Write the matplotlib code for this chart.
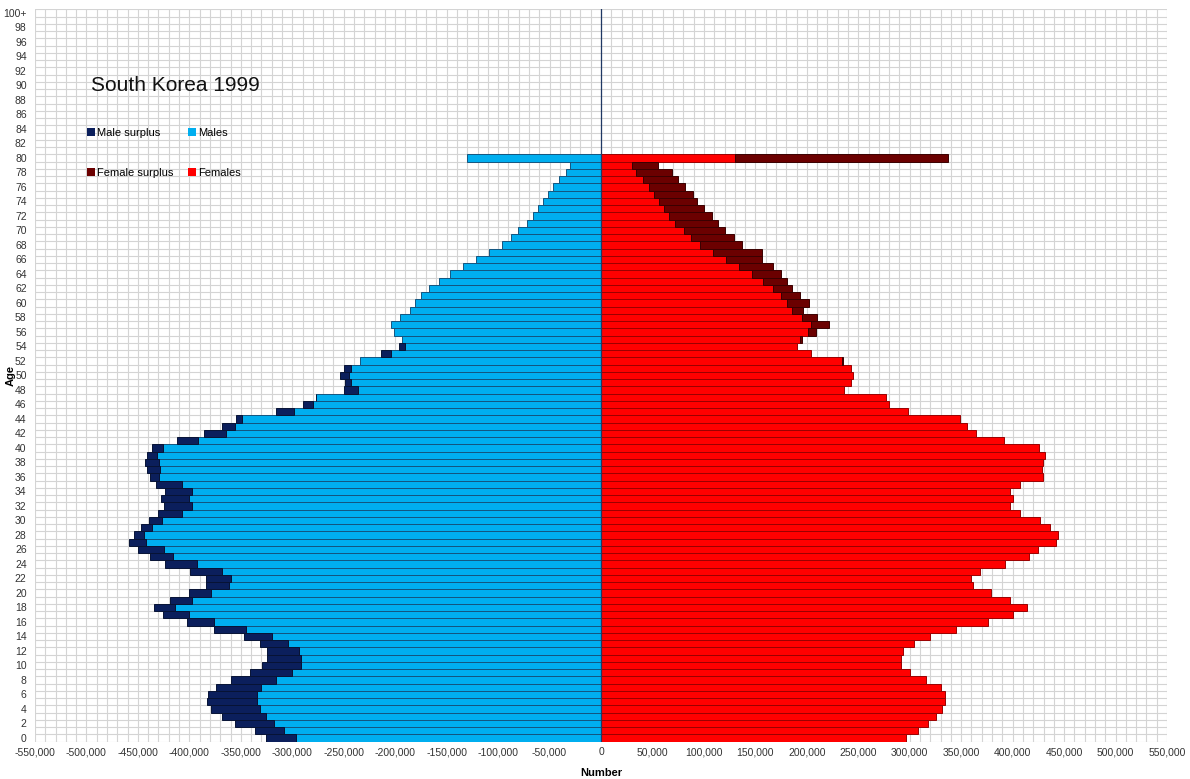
import matplotlib
matplotlib.use("Agg")
import matplotlib.pyplot as plt
from matplotlib.patches import Patch
import numpy as np

plt.rcParams['font.family'] = ['Liberation Sans', 'DejaVu Sans']

# Ages 0..79 plus the open group 80+
ages = np.arange(0, 81)

males = [325600, 336000, 355400, 368300, 379000, 382900, 382300, 373800, 359300, 340800,
         329500, 324600, 324600, 331800, 347300, 376400, 402300, 425600, 434700, 419100,
         400700, 383500, 383500, 399100, 423400, 437900, 450200, 459000, 454100, 447000,
         439600, 430400, 425000, 427200, 423400, 432100, 438600, 441100, 442800, 441100,
         436300, 412000, 385500, 368000, 354700, 315600, 289700, 277100, 250200, 248600,
         253400, 249500, 234600, 213600, 196100, 193600, 201000, 203900, 195200, 185500,
         180600, 175100, 166700, 157300, 146600, 134300, 121400, 108500, 96400, 87400,
         80300, 72200, 65700, 60900, 56000, 51800, 46300, 40800, 34300, 30100,
         130400]

females = [296800, 308100, 317800, 325900, 331800, 334000, 334700, 330800, 315600, 300700,
           291300, 291300, 293600, 303900, 319500, 345400, 376100, 400400, 414300, 397800,
           379300, 361500, 359300, 368700, 392300, 415900, 424700, 441800, 444400, 436600,
           426300, 406800, 397800, 400400, 397800, 406800, 429500, 428500, 429500, 431100,
           425300, 391600, 364100, 356000, 349000, 298000, 279600, 277000, 236000, 243300,
           245000, 243000, 234700, 204000, 190000, 195000, 209000, 222000, 210000, 196000,
           202000, 193200, 185100, 180300, 174800, 166700, 156000, 156000, 136600, 129500,
           120400, 113900, 107500, 100000, 92900, 89600, 81600, 75100, 68600, 55000,
           337000]

y_labels = [str(a) for a in range(0, 100, 2)] + ['100+']

c_males = '#00AEEF'
c_male_surplus = '#0B1F5C'
c_females = '#FF0000'
c_female_surplus = '#6B0000'

m = np.array(males)
f = np.array(females)
base = np.minimum(m, f)
m_sur = m - base
f_sur = f - base

fig = plt.figure(figsize=(11.9, 7.79), dpi=100)
ax = fig.add_axes([0.0294, 0.048, 0.9513, 0.940])

# grid behind the bars
ax.set_axisbelow(True)
ax.set_xticks(np.arange(-550000, 550001, 50000))
ax.set_xticks(np.arange(-550000, 550001, 10000), minor=True)
ax.set_yticks(np.arange(0, 101, 2))
ax.set_yticks(np.arange(-0.5, 101, 1), minor=True)
ax.grid(True, which='minor', color='#D4D4D4', linewidth=0.8)
ax.grid(True, which='major', axis='x', color='#D4D4D4', linewidth=0.8)

# bars
ax.barh(ages, -base, height=1.0, color=c_males, edgecolor='#14557F', linewidth=0.7, zorder=2)
ms = m_sur > 0
ax.barh(ages[ms], -m_sur[ms], left=-base[ms], height=1.0, color=c_male_surplus,
        edgecolor='#071335', linewidth=0.7, zorder=2)
ax.barh(ages, base, height=1.0, color=c_females, edgecolor='#9A0000', linewidth=0.7, zorder=2)
fs = f_sur > 0
ax.barh(ages[fs], f_sur[fs], left=base[fs], height=1.0, color=c_female_surplus,
        edgecolor='#3A0000', linewidth=0.7, zorder=2)
ax.axvline(0, color='#1F3864', linewidth=0.9, zorder=3)

ax.set_xlim(-550000, 550000)
ax.set_ylim(-0.5, 100.5)
ax.set_yticklabels(y_labels)
ax.set_xticklabels([f'{v:,}' for v in range(-550000, 550001, 50000)])
ax.tick_params(axis='both', which='both', length=0, labelsize=7.5, colors='#333333')
ax.tick_params(axis='y', pad=6)
ax.tick_params(axis='x', pad=4)
for s in ax.spines.values():
    s.set_visible(False)

ax.set_xlabel('Number', fontsize=8, fontweight='bold', labelpad=8)
ax.set_ylabel('Age', fontsize=8, fontweight='bold')
ax.yaxis.set_label_coords(-0.017, 0.5)

ax.text(0.0495, 0.889, 'South Korea 1999', transform=ax.transAxes, fontsize=15,
        va='baseline', ha='left', color='#111111')

handles = [Patch(facecolor=c_male_surplus, edgecolor='none'),
           Patch(facecolor=c_female_surplus, edgecolor='none'),
           Patch(facecolor=c_males, edgecolor='none'),
           Patch(facecolor=c_females, edgecolor='none')]
labels = ['Male surplus', 'Female surplus', 'Males', 'Females']
ax.legend(handles, labels, ncol=2, loc='upper left', bbox_to_anchor=(0.046, 0.838),
          frameon=False, fontsize=8, handlelength=0.7, handleheight=0.7,
          handletextpad=0.2, labelspacing=2.7, columnspacing=1.3,
          borderpad=0, borderaxespad=0)

plt.savefig('out.png', dpi=100)
